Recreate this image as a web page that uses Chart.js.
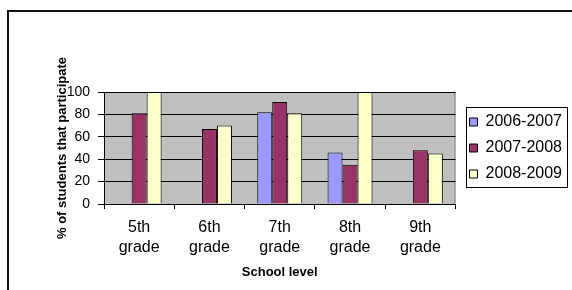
<!DOCTYPE html>
<html>
<head>
<meta charset="utf-8">
<script src="https://cdn.jsdelivr.net/npm/chart.js@4"></script>
<style>
  html, body { margin: 0; padding: 0; background: #fff; }
  #frame { position: absolute; left: 7px; top: 10px; width: 640px; height: 340px; border: 2px solid #111; }
  #wrap { position: absolute; left: 0; top: 0; width: 572px; height: 290px; }
</style>
</head>
<body>
<div id="frame"></div>
<div id="wrap"><canvas id="ParticipationChart" width="572" height="290"></canvas></div>
<script>
const gradeLabels = [['5th', 'grade'], ['6th', 'grade'], ['7th', 'grade'], ['8th', 'grade'], ['9th', 'grade']]
const year0607 = [null, null, 82, 46, null]
const year0708 = [81, 67, 91, 35, 48]
const year0809 = [100, 70, 81, 100, 45]
const yTicks = [0, 20, 40, 60, 80, 100]

const FONT = 'Liberation Sans, Arial, sans-serif'

// gray plot background with a thin border, like the old Excel charts
const plotBackground = {
  id: 'plotBackground',
  beforeDraw(chart) {
    const { ctx, chartArea: a } = chart
    ctx.save()
    ctx.fillStyle = '#c0c0c0'
    ctx.fillRect(a.left, a.top, a.width, a.height)
    ctx.strokeStyle = '#808080'
    ctx.lineWidth = 1
    ctx.strokeRect(a.left + 0.5, a.top + 0.5, a.width - 1, a.height)
    ctx.restore()
  }
}

// box around the legend
const legendBox = {
  id: 'legendBox',
  afterDraw(chart) {
    const lg = chart.legend
    if (!lg || !lg.legendHitBoxes.length) return
    const hb = lg.legendHitBoxes
    const top = Math.min(...hb.map((h) => h.top)) - 7
    const bottom = Math.max(...hb.map((h) => h.top + h.height)) + 5
    const left = Math.min(...hb.map((h) => h.left)) - 3
    const right = Math.min(Math.max(...hb.map((h) => h.left + h.width)) + 5, chart.width - 5)
    const { ctx } = chart
    ctx.save()
    ctx.strokeStyle = '#000'
    ctx.lineWidth = 1
    ctx.strokeRect(Math.round(left) + 0.5, Math.round(top) + 0.5, Math.round(right - left), Math.round(bottom - top))
    ctx.restore()
  }
}

const ctx = document.getElementById('ParticipationChart')

new Chart(ctx, {
  type: 'bar',
  data: {
    labels: gradeLabels,
    datasets: [
      {
        label: '2006-2007',
        data: year0607,
        backgroundColor: '#9999ff',
        borderColor: '#000',
        borderWidth: 1
      },
      {
        label: '2007-2008',
        data: year0708,
        backgroundColor: '#993366',
        borderColor: '#000',
        borderWidth: 1
      },
      {
        label: '2008-2009',
        data: year0809,
        backgroundColor: '#ffffcc',
        borderColor: '#000',
        borderWidth: 1
      }
    ]
  },
  options: {
    responsive: false,
    animation: false,
    categoryPercentage: 0.64,
    barPercentage: 1,
    layout: {
      padding: { top: 92, left: 52, right: 0, bottom: 0 }
    },
    plugins: {
      tooltip: { enabled: false },
      legend: {
        position: 'right',
        fullSize: false,
        maxWidth: 200,
        labels: {
          boxWidth: 8,
          boxHeight: 8,
          padding: 10,
          color: '#000',
          font: { family: FONT, size: 16, lineHeight: 1.2 }
        }
      }
    },
    scales: {
      x: {
        grid: {
          offset: true,
          drawOnChartArea: false,
          color: '#000',
          tickLength: 5
        },
        border: { color: '#000', width: 1 },
        ticks: {
          color: '#000',
          padding: 9,
          maxRotation: 0,
          font: { family: FONT, size: 16, lineHeight: 1.22 }
        },
        title: {
          display: true,
          text: 'School level',
          color: '#000',
          padding: { top: 0, bottom: 10 },
          font: { family: FONT, size: 13, weight: 'bold', lineHeight: 1.2 }
        },
        afterFit(scale) {
          scale.height = 86
        }
      },
      y: {
        min: 0,
        max: 100,
        afterBuildTicks(scale) {
          scale.ticks = yTicks.map((v) => ({ value: v }))
        },
        grid: {
          color: '#000',
          tickLength: 6
        },
        border: { color: '#000', width: 1 },
        ticks: {
          color: '#000',
          padding: 8,
          font: { family: FONT, size: 14 }
        },
        title: {
          display: true,
          text: '% of students that participate',
          color: '#000',
          padding: { top: 3, bottom: 0 },
          font: { family: FONT, size: 13, weight: 'bold', lineHeight: 1.2 }
        },
        afterFit(scale) {
          scale.width = 52
        }
      },
      // hidden axis, only keeps a gap between the plot and the legend
      gap: {
        position: 'right',
        display: false,
        afterFit(scale) {
          scale.width = 4
        }
      }
    }
  },
  plugins: [plotBackground, legendBox]
})
</script>
</body>
</html>
